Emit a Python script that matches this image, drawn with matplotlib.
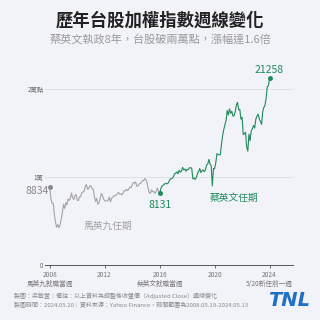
import matplotlib
matplotlib.use("Agg")
import matplotlib.pyplot as plt
import pandas as pd

plt.rcParams['font.family'] = ['Noto Sans CJK TC', 'DejaVu Sans']

# monthly-ish readings of the weekly TAIEX line, Ma era (2008-05-19 .. 2016-05-16)
ma_vals = [8834, 7500, 7020, 7050, 5720, 4870, 4300, 4590,
           4250, 4560, 5210, 5990, 6890, 6430, 7080, 6830, 7510, 7340, 7580, 8190,
           7640, 7440, 7920, 8000, 7370, 7330, 7760, 7760, 8240, 8290, 8370, 8970,
           9150, 8600, 8680, 9010, 9010, 8650, 8640, 7740, 7230, 7590, 6900, 7070,
           7520, 8120, 7930, 7500, 7300, 7300, 7270, 7400, 7720, 7170, 7580, 7700,
           7850, 7910, 7920, 8090, 8250, 8060, 8110, 7980, 8170, 8450, 8410, 8610,
           8460, 8640, 8850, 8790, 9080, 9390, 9320, 9440, 8970, 8970, 9190, 9310,
           9360, 9620, 9590, 9820, 9700, 9320, 8670, 8170, 8180, 8550, 8320, 8340,
           8150, 8410, 8740, 8380, 8131]

# Tsai era (2016-05-16 .. 2024-05-13)
tsai_vals = [8131, 8670, 8980, 9070, 9170, 9290, 9240, 9250,
             9450, 9750, 9810, 9870, 10040, 10400, 10430, 10590, 10380, 10790, 10560, 10640,
             11100, 10820, 10920, 10660, 10870, 10840, 11060, 11060, 11010, 9800, 9890, 9730,
             9930, 10390, 10640, 10970, 10500, 10730, 10820, 10620, 10830, 11360, 11490, 12000,
             11500, 11290, 9000, 10990, 10940, 11620, 12660, 12590, 12520, 12550, 13720, 14730,
             15410, 15950, 16430, 17570, 17070, 17760, 17250, 17490, 16930, 16990, 17430, 18220,
             18500, 17650, 17690, 16590, 16810, 14830, 14940, 15100, 13420, 12950, 14880, 14140,
             15270, 15500, 15870, 15580, 16580, 16920, 17150, 16630, 16350, 16000, 17430, 17930,
             18150, 18970, 20290, 20400, 21258]

ma_start, ma_end = '2008-05-19', '2016-05-16'
tsai_start, tsai_end = '2016-05-16', '2024-05-13'

tick_dates = ['2008-05-19', '2012-05-14', '2016-05-16', '2020-05-18', '2024-05-13']
tick_labels = ['2008\n馬英九就職當週', '2012\n', '2016\n蔡英文就職當週', '2020\n', '2024\n5/20新任前一週']
y_ticks = [0, 10000, 20000]
y_labels = ['0', '1萬', '2萬點']

bg = '#f2f3f8'
gray = '#a3a3a3'
green = '#1f8a5b'

ma_dates = pd.date_range(ma_start, ma_end, periods=len(ma_vals))
tsai_dates = pd.date_range(tsai_start, tsai_end, periods=len(tsai_vals))

fig = plt.figure(figsize=(3.2, 3.2), dpi=100, facecolor=bg)
ax = fig.add_axes([0.14, 0.172, 0.775, 0.64], facecolor=bg)

ax.plot(ma_dates, ma_vals, color=gray, lw=0.8)
ax.plot(tsai_dates, tsai_vals, color=green, lw=0.8)
ax.plot(ma_dates[0], ma_vals[0], 'o', color='#888888', ms=2.5)
ax.plot(tsai_dates[0], tsai_vals[0], 'o', color=green, ms=2.5)
ax.plot(tsai_dates[-1], tsai_vals[-1], 'o', color=green, ms=2.5)

ax.annotate(f'{ma_vals[0]}', (ma_dates[0], ma_vals[0]), xytext=(-1, -3),
            textcoords='offset points', ha='right', va='center', fontsize=7.5, color='#8a8a8a')
ax.annotate(f'{tsai_vals[0]}', (tsai_dates[0], tsai_vals[0]), xytext=(-8, -8),
            textcoords='offset points', ha='left', va='center', fontsize=7.5, color=green)
ax.annotate(f'{tsai_vals[-1]}', (tsai_dates[-1], tsai_vals[-1]), xytext=(0, 6),
            textcoords='offset points', ha='center', va='center', fontsize=7.5, color=green)

ax.text(pd.Timestamp('2012-08-20'), 4500, '馬英九任期', fontsize=7, color='#a0a0a0',
        ha='center', va='center')
ax.text(pd.Timestamp('2021-10-01'), 7600, '蔡英文任期', fontsize=7, color=green,
        ha='center', va='center')

ax.set_ylim(0, 23300)
ax.set_xlim(pd.Timestamp('2008-01-08'), pd.Timestamp('2026-01-20'))

for v in y_ticks[1:]:
    ax.axhline(v, color='#dcdde3', lw=0.6, zorder=0)
ax.set_yticks(y_ticks)
ax.set_yticklabels(y_labels, fontsize=4.5, color='#666666')
ax.tick_params(axis='y', length=0, pad=1)

ax.set_xticks(pd.to_datetime(tick_dates))
ax.set_xticklabels(tick_labels, fontsize=4.8, color='#777777', linespacing=1.3)
ax.tick_params(axis='x', length=2, width=0.6, color='#555555', pad=2)

for s in ['top', 'right', 'left']:
    ax.spines[s].set_visible(False)
ax.spines['bottom'].set_color('#555555')
ax.spines['bottom'].set_linewidth(0.7)

fig.text(0.5, 0.935, '歷年台股加權指數週線變化', ha='center', va='center',
         fontsize=12.5, fontweight='bold', color='#222222')
fig.text(0.5, 0.878, '蔡英文執政8年，台股破兩萬點，漲幅達1.6倍', ha='center', va='center',
         fontsize=8, color='#9a9a9a')

fig.text(0.045, 0.075, '製圖：梁敏萱｜備註：以上資料為調整後收盤價（Adjusted Close）週線變化',
         fontsize=4.3, color='#888888', va='center')
fig.text(0.045, 0.047, '製圖時間：2024.05.20｜資料來源：Yahoo Finance，時間範圍為2008.05.19-2024.05.13',
         fontsize=4.3, color='#888888', va='center')
fig.text(0.968, 0.062, 'TNL', ha='right', va='center', fontsize=14,
         fontweight='heavy', style='italic', color='#1f6fc6', family='DejaVu Sans')

fig.savefig('out.png', dpi=100, facecolor=bg)
